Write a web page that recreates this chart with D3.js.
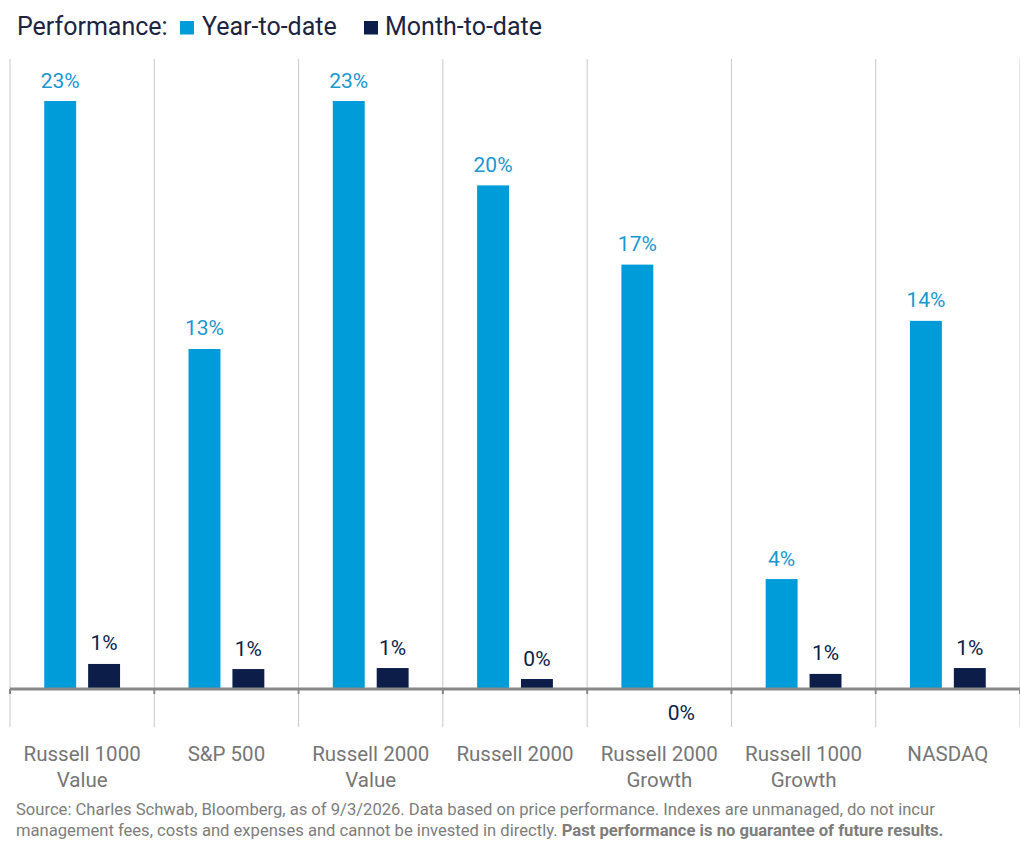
<!DOCTYPE html>
<html>
<head>
<meta charset="utf-8">
<script src="https://cdn.jsdelivr.net/npm/d3@7"></script>
<style>
  html, body { margin: 0; padding: 0; background: #fff; }
  svg { display: block; font-family: Roboto, "Open Sans", sans-serif; }
</style>
</head>
<body>
<div id="chart"></div>
<script>
const width = 1020;
const height = 849;

const categories = [
  ["Russell 1000", "Value"],
  ["S&P 500"],
  ["Russell 2000", "Value"],
  ["Russell 2000"],
  ["Russell 2000", "Growth"],
  ["Russell 1000", "Growth"],
  ["NASDAQ"]
];
const ytd = [23.0, 13.3, 23.0, 19.7, 16.6, 4.3, 14.4];
const mtd = [0.98, 0.78, 0.82, 0.39, -0.02, 0.59, 0.82];
const seriesNames = ["Year-to-date", "Month-to-date"];

const colors = { ytd: "#009cd9", mtd: "#0b1d48" };

const svg = d3.select("#chart")
  .append("svg")
  .attr("width", width)
  .attr("height", height);

const ids = categories.map((c, i) => i);

const x = d3.scaleBand()
  .domain(ids)
  .range([10, 1020])
  .padding(0);

const inner = d3.scaleBand()
  .domain(["ytd", "mtd"])
  .range([0, x.bandwidth()])
  .paddingInner(0.273)
  .paddingOuter(0.78);

const y = d3.scaleLinear()
  .domain([0, 23])
  .range([689, 101]);

// vertical separators
const seps = ids.concat([ids.length]);
const sepX = d => d < ids.length ? x(d) : x.range()[1];
svg.append("g").selectAll("line")
  .data(seps)
  .join("line")
  .attr("x1", sepX)
  .attr("x2", sepX)
  .attr("y1", 59)
  .attr("y2", 727)
  .attr("stroke", "#c8c8c8")
  .attr("stroke-width", 1);

// bars
const rows = [];
ids.forEach(i => {
  rows.push({ i, key: "ytd", v: ytd[i] });
  rows.push({ i, key: "mtd", v: mtd[i] });
});

svg.append("g").selectAll("rect")
  .data(rows)
  .join("rect")
  .attr("x", d => x(d.i) + inner(d.key))
  .attr("width", inner.bandwidth())
  .attr("y", d => Math.min(y(d.v), y(0)))
  .attr("height", d => Math.abs(y(d.v) - y(0)))
  .attr("fill", d => colors[d.key]);

// value labels
svg.append("g").selectAll("text")
  .data(rows)
  .join("text")
  .attr("x", d => x(d.i) + inner(d.key) + inner.bandwidth() / 2)
  .attr("y", d => d.v >= 0 ? y(d.v) - 13.5 : y(0) + 30.5)
  .attr("text-anchor", "middle")
  .attr("font-size", 21)
  .attr("fill", d => d.key === "ytd" ? "#1a98d0" : "#0b1d48")
  .text(d => Math.abs(Math.round(d.v)) + "%");

// baseline axis
const axis = svg.append("g")
  .attr("transform", `translate(0,${y(0)})`)
  .call(d3.axisBottom(x).tickSize(0).tickFormat(""));
axis.select(".domain")
  .attr("stroke", "#888")
  .attr("stroke-width", 3)
  .attr("d", `M10,0H1020`);

svg.append("g").selectAll("line")
  .data(seps)
  .join("line")
  .attr("x1", sepX)
  .attr("x2", sepX)
  .attr("y1", y(0))
  .attr("y2", y(0) + 5)
  .attr("stroke", "#888")
  .attr("stroke-width", 2);

// category labels
const catG = svg.append("g").selectAll("text")
  .data(ids)
  .join("text")
  .attr("x", d => x(d) + x.bandwidth() / 2)
  .attr("y", 761)
  .attr("text-anchor", "middle")
  .attr("font-size", 20.5)
  .attr("fill", "#767676");
catG.selectAll("tspan")
  .data(d => categories[d].map(t => ({ t, c: d })))
  .join("tspan")
  .attr("x", d => x(d.c) + x.bandwidth() / 2)
  .attr("dy", (d, j) => j === 0 ? 0 : 25.5)
  .text(d => d.t);

// legend
const legend = svg.append("g").attr("font-size", 25).attr("fill", "#1b2542");
legend.append("text").attr("x", 17).attr("y", 34.5).text("Performance:");
const legendItems = [
  { name: seriesNames[0], color: colors.ytd, x: 180, tx: 202 },
  { name: seriesNames[1], color: colors.mtd, x: 364, tx: 385 }
];
legend.selectAll("rect")
  .data(legendItems)
  .join("rect")
  .attr("x", d => d.x)
  .attr("y", 21)
  .attr("width", 14)
  .attr("height", 13.5)
  .attr("fill", d => d.color);
legend.selectAll("text.item")
  .data(legendItems)
  .join("text")
  .attr("class", "item")
  .attr("x", d => d.tx)
  .attr("y", 34.5)
  .text(d => d.name);

// source note
const note = svg.append("g").attr("font-size", 16.6).attr("fill", "#7d7d7d");
note.append("text")
  .attr("x", 16).attr("y", 815)
  .text("Source: Charles Schwab, Bloomberg, as of 9/3/2026. Data based on price performance. Indexes are unmanaged, do not incur");
const l2 = note.append("text").attr("x", 16).attr("y", 836);
l2.append("tspan").text("management fees, costs and expenses and cannot be invested in directly. ");
l2.append("tspan").attr("font-weight", "bold").text("Past performance is no guarantee of future results.");
</script>
</body>
</html>
